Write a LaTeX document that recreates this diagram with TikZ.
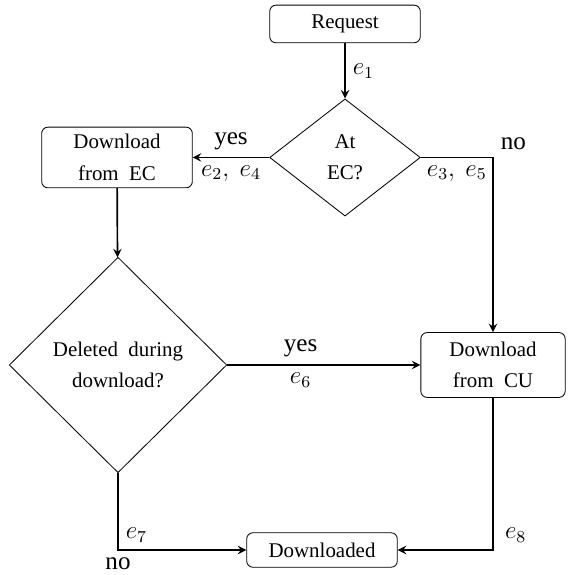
\documentclass[tikz,border=0pt]{standalone}
\usepackage{fontspec}
\setmainfont{Liberation Serif}
\usepackage{tikz}
\usetikzlibrary{shapes.geometric}
\usetikzlibrary{arrows.meta}

\begin{document}
\begin{tikzpicture}[>=stealth, thick, x=1.68mm, y=1.68mm,
		box/.style={draw, thin, rounded corners=3pt, align=center, font=\fontsize{10}{15}\selectfont, minimum width=72pt, inner sep=2pt},
		cond/.style={diamond, draw, thin, align=center, font=\fontsize{10}{15}\selectfont, inner sep=0pt},
		lbl/.style={font=\fontsize{12}{14}\selectfont}]
	\useasboundingbox (0,0) rectangle (56.8,57.5);
	
	% === 节点 ===
	\node[box, minimum height=18pt] (req) at (34.5,55.1) {Request};
	\node[cond, minimum width=72pt, minimum height=56pt] (atec) at (34.5,41.75) {At\\EC?};
	\node[box, minimum height=29pt] (ec) at (11.7,41.75) {Download\\from\ \ EC};
	\node[cond, minimum width=104pt, minimum height=103pt] (del) at (11.8,21.0) {Deleted\ \ during\\download?};
	\node[box, minimum width=69pt, minimum height=31pt] (cu) at (49.3,21.0) {Download\\from\ \ CU};
	\node[box, minimum height=16.5pt] (done) at (32.2,2.5) {Downloaded};
	
	% === 连线 ===
	\draw[->] (req) -- node[lbl, right] {$e_1$} (atec);
	\draw[->] (atec) -- node[lbl, above] {yes} node[lbl, below] {$e_2,\ e_4$} (ec);
	\draw[->] (atec.east) -| node[lbl, pos=0.25, below] {$e_3,\ e_5$} node[lbl, pos=0.5, above right] {no} (cu);
	\draw[->] (ec) -- (del);
	\draw[->] (del) -- node[lbl, pos=0.38, above] {yes} node[lbl, pos=0.38, below] {$e_6$} (cu);
	
	% 两条汇入 Downloaded
	\draw[->] (del.south) |- node[lbl, pos=0.5, above right] {$e_7$} node[lbl, pos=0.5, below] {no} (done);
	\draw[->] (cu.south) |- node[lbl, pos=0.5, above right, xshift=2pt] {$e_8$} (done);
\end{tikzpicture}
\end{document}
